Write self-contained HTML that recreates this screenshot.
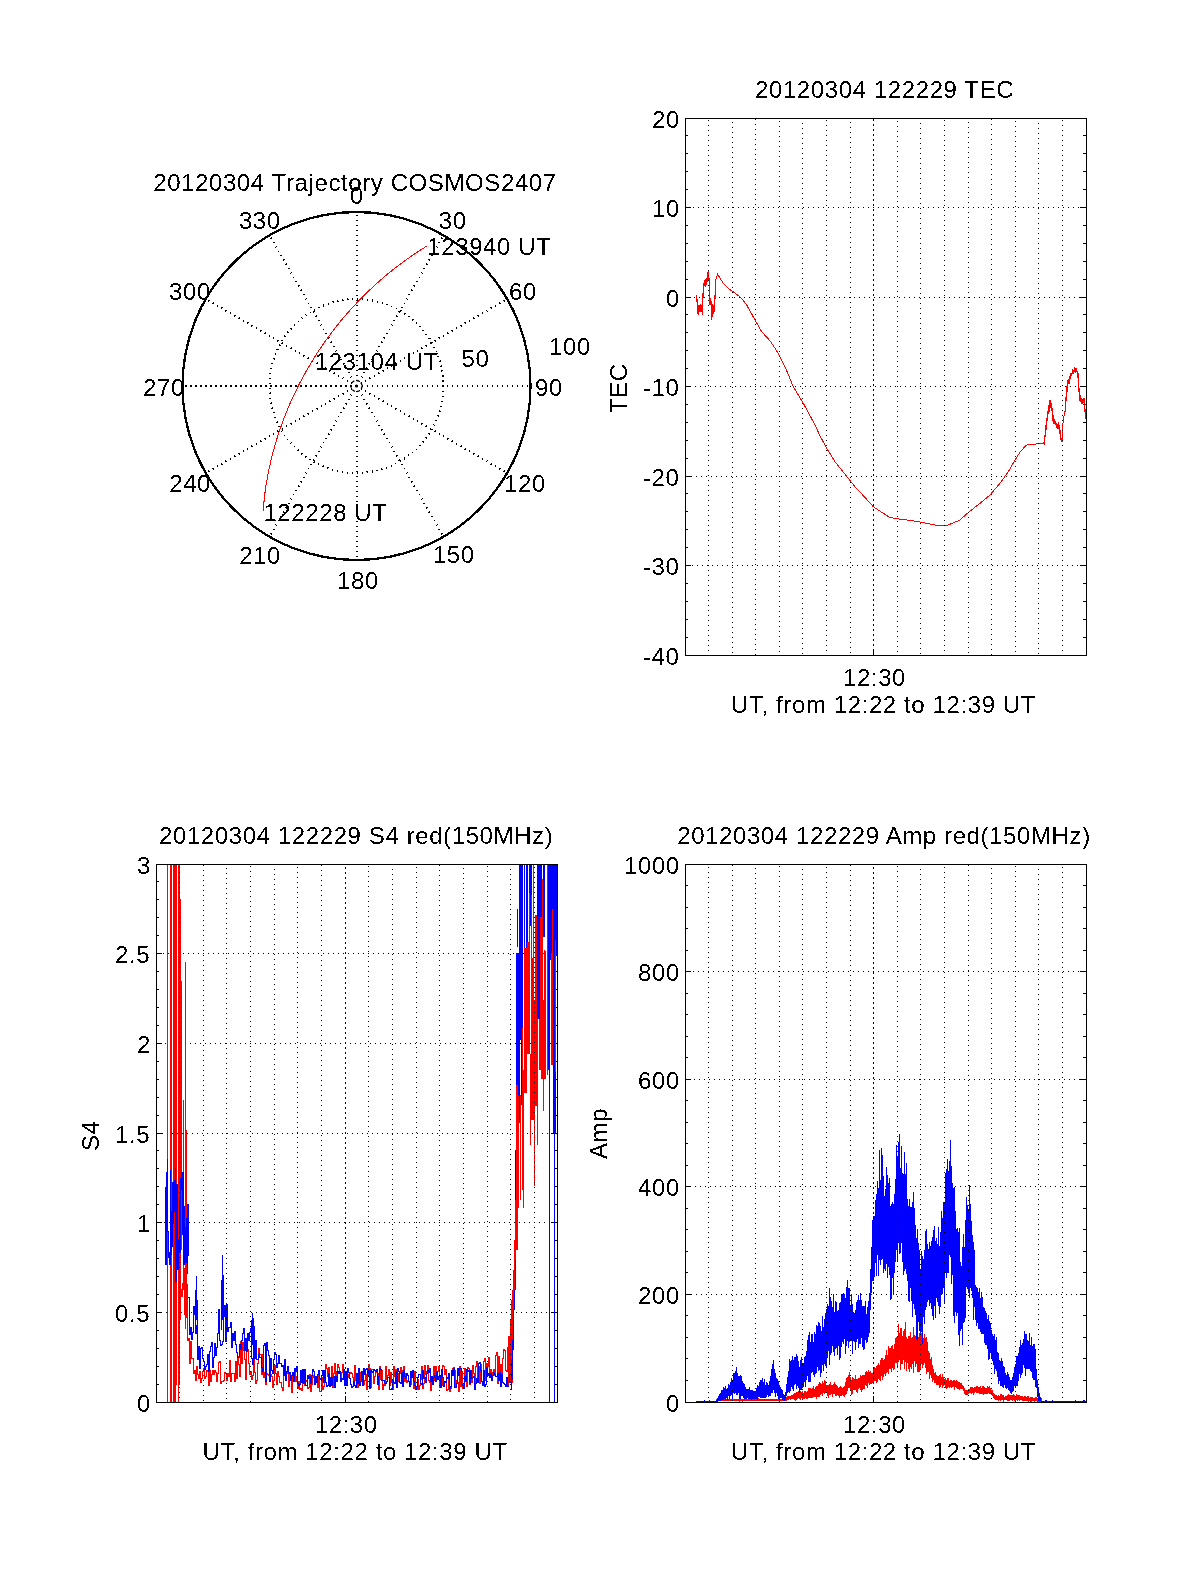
<!DOCTYPE html>
<html><head><meta charset="utf-8"><style>
html,body{margin:0;padding:0;background:#fff;}
svg{display:block;will-change:transform;}
text{font-family:"Liberation Sans",sans-serif;fill:#000;}
</style></head><body>
<svg width='1200' height='1575' viewBox='0 0 1200 1575' font-family='Liberation Sans' font-size='24' letter-spacing='0.6'>
<defs><filter id='bin' x='-5%' y='-20%' width='110%' height='140%'><feComponentTransfer><feFuncA type='discrete' tableValues='0 1'/></feComponentTransfer></filter></defs>
<rect width='1200' height='1575' fill='#fff'/>
<g shape-rendering='crispEdges'><path d='M685.5 118.5H1086.5V655.5H685.5Z' fill='none' stroke='#000'/><path d='M688 207.5H1086M689 297.5H1086M690 386.5H1086M686 476.5H1086M687 565.5H1086' stroke='#000' stroke-dasharray='1 4'/><path d='M685 637.5h3M1083 637.5h4M685 619.5h3M1083 619.5h4M685 601.5h3M1083 601.5h4M685 583.5h3M1083 583.5h4M685 565.5h6M1080 565.5h7M685 547.5h3M1083 547.5h4M685 529.5h3M1083 529.5h4M685 511.5h3M1083 511.5h4M685 493.5h3M1083 493.5h4M685 476.5h6M1080 476.5h7M685 458.5h3M1083 458.5h4M685 440.5h3M1083 440.5h4M685 422.5h3M1083 422.5h4M685 404.5h3M1083 404.5h4M685 386.5h6M1080 386.5h7M685 368.5h3M1083 368.5h4M685 350.5h3M1083 350.5h4M685 332.5h3M1083 332.5h4M685 314.5h3M1083 314.5h4M685 297.5h6M1080 297.5h7M685 279.5h3M1083 279.5h4M685 261.5h3M1083 261.5h4M685 243.5h3M1083 243.5h4M685 225.5h3M1083 225.5h4M685 207.5h6M1080 207.5h7M685 189.5h3M1083 189.5h4M685 171.5h3M1083 171.5h4M685 153.5h3M1083 153.5h4M685 135.5h3M1083 135.5h4' stroke='#000'/></g>
<text x='643' y='665' filter='url(#bin)'>-40</text>
<text x='643' y='575' filter='url(#bin)'>-30</text>
<text x='643' y='486' filter='url(#bin)'>-20</text>
<text x='643' y='396' filter='url(#bin)'>-10</text>
<text x='666' y='307' filter='url(#bin)'>0</text>
<text x='652' y='217' filter='url(#bin)'>10</text>
<text x='652' y='128' filter='url(#bin)'>20</text>
<text x='755' y='98' filter='url(#bin)'>20120304 122229 TEC</text>
<text x='843' y='686' filter='url(#bin)'>12:30</text>
<text x='731' y='713' filter='url(#bin)'>UT, from 12:22 to 12:39 UT</text>
<text x='627' y='413' transform='rotate(-90 627 413)' filter='url(#bin)'>TEC</text>
<g shape-rendering='crispEdges'><path d='M156.5 864.5H557.5V1402.5H156.5Z' fill='none' stroke='#000'/><path d='M158 953.5H557M160 1043.5H557M157 1133.5H557M159 1222.5H557M161 1312.5H557' stroke='#000' stroke-dasharray='1 4'/><path d='M156 1384.5h3M554 1384.5h4M156 1366.5h3M554 1366.5h4M156 1348.5h3M554 1348.5h4M156 1330.5h3M554 1330.5h4M156 1312.5h6M551 1312.5h7M156 1294.5h3M554 1294.5h4M156 1276.5h3M554 1276.5h4M156 1258.5h3M554 1258.5h4M156 1240.5h3M554 1240.5h4M156 1222.5h6M551 1222.5h7M156 1204.5h3M554 1204.5h4M156 1186.5h3M554 1186.5h4M156 1168.5h3M554 1168.5h4M156 1150.5h3M554 1150.5h4M156 1133.5h6M551 1133.5h7M156 1115.5h3M554 1115.5h4M156 1097.5h3M554 1097.5h4M156 1079.5h3M554 1079.5h4M156 1061.5h3M554 1061.5h4M156 1043.5h6M551 1043.5h7M156 1025.5h3M554 1025.5h4M156 1007.5h3M554 1007.5h4M156 989.5h3M554 989.5h4M156 971.5h3M554 971.5h4M156 953.5h6M551 953.5h7M156 935.5h3M554 935.5h4M156 917.5h3M554 917.5h4M156 899.5h3M554 899.5h4M156 881.5h3M554 881.5h4' stroke='#000'/></g>
<text x='137' y='1412' filter='url(#bin)'>0</text>
<text x='115' y='1322' filter='url(#bin)'>0.5</text>
<text x='137' y='1232' filter='url(#bin)'>1</text>
<text x='115' y='1143' filter='url(#bin)'>1.5</text>
<text x='137' y='1053' filter='url(#bin)'>2</text>
<text x='115' y='963' filter='url(#bin)'>2.5</text>
<text x='137' y='874' filter='url(#bin)'>3</text>
<text x='159' y='844' filter='url(#bin)'>20120304 122229 S4 red(150MHz)</text>
<text x='314.7' y='1433' filter='url(#bin)'>12:30</text>
<text x='202.6' y='1460' filter='url(#bin)'>UT, from 12:22 to 12:39 UT</text>
<text x='99' y='1151' transform='rotate(-90 99 1151)' filter='url(#bin)'>S4</text>
<g shape-rendering='crispEdges'><path d='M685.5 864.5H1086.5V1402.5H685.5Z' fill='none' stroke='#000'/><path d='M688 971.5H1086M689 1079.5H1086M690 1186.5H1086M686 1294.5H1086' stroke='#000' stroke-dasharray='1 4'/><path d='M685 1380.5h3M1083 1380.5h4M685 1358.5h3M1083 1358.5h4M685 1337.5h3M1083 1337.5h4M685 1315.5h3M1083 1315.5h4M685 1294.5h6M1080 1294.5h7M685 1272.5h3M1083 1272.5h4M685 1251.5h3M1083 1251.5h4M685 1229.5h3M1083 1229.5h4M685 1208.5h3M1083 1208.5h4M685 1186.5h6M1080 1186.5h7M685 1165.5h3M1083 1165.5h4M685 1143.5h3M1083 1143.5h4M685 1122.5h3M1083 1122.5h4M685 1100.5h3M1083 1100.5h4M685 1079.5h6M1080 1079.5h7M685 1057.5h3M1083 1057.5h4M685 1036.5h3M1083 1036.5h4M685 1014.5h3M1083 1014.5h4M685 993.5h3M1083 993.5h4M685 971.5h6M1080 971.5h7M685 950.5h3M1083 950.5h4M685 928.5h3M1083 928.5h4M685 907.5h3M1083 907.5h4M685 885.5h3M1083 885.5h4' stroke='#000'/></g>
<text x='666' y='1412' filter='url(#bin)'>0</text>
<text x='638' y='1304' filter='url(#bin)'>200</text>
<text x='638' y='1196' filter='url(#bin)'>400</text>
<text x='638' y='1089' filter='url(#bin)'>600</text>
<text x='638' y='981' filter='url(#bin)'>800</text>
<text x='624' y='874' filter='url(#bin)'>1000</text>
<text x='677.2' y='844' filter='url(#bin)'>20120304 122229 Amp red(150MHz)</text>
<text x='843' y='1433' filter='url(#bin)'>12:30</text>
<text x='731' y='1460' filter='url(#bin)'>UT, from 12:22 to 12:39 UT</text>
<text x='607' y='1159' transform='rotate(-90 607 1159)' filter='url(#bin)'>Amp</text>
<defs><clipPath id='cs4'><rect x='157' y='865' width='400' height='537'/></clipPath><clipPath id='camp'><rect x='686' y='865' width='400' height='537'/></clipPath></defs>
<g clip-path='url(#cs4)' shape-rendering='crispEdges'>
<path d='M167.5 864V1402M170 864V1402M173.5 864V1402M174.5 864V1402M175.5 864V1402M176.5 864V1385M178.5 864V1402M179.5 864V1385M180.5 899V1320M181.5 981V1250M185.5 962V1329M183.5 1100V1290M186.5 1130V1318' fill='none' stroke='#f00' stroke-width='1'/>
<path d='M171 864V1402' fill='none' stroke='#f00' stroke-width='2'/>
<path d='M180.5 1289V1290M181.5 1289V1297M182.5 1283V1297M183.5 1268V1284M184.5 1268V1315M185.5 1277V1315M186.5 1277V1285M187.5 1284V1341M188.5 1338V1341M189.5 1338V1364M190.5 1341V1364M191.5 1341V1359M192.5 1358V1359M193.5 1358V1374M194.5 1370V1374M195.5 1370V1381M196.5 1366V1381M197.5 1366V1375M198.5 1374V1379M199.5 1371V1379M200.5 1371V1383M201.5 1378V1383M202.5 1371V1379M203.5 1368V1372M204.5 1368V1379M205.5 1376V1379M206.5 1370V1377M207.5 1370V1372M208.5 1371V1386M209.5 1370V1386M210.5 1370V1382M211.5 1374V1382M212.5 1370V1375M213.5 1370V1375M214.5 1370V1375M215.5 1370V1373M216.5 1372V1382M217.5 1373V1382M218.5 1362V1374M219.5 1361V1363M220.5 1361V1384M221.5 1381V1384M222.5 1381V1382M223.5 1380V1382M224.5 1372V1381M225.5 1372V1374M226.5 1373V1381M227.5 1373V1381M228.5 1373V1377M229.5 1360V1377M230.5 1360V1382M231.5 1373V1382M232.5 1373V1374M233.5 1373V1374M234.5 1373V1382M235.5 1361V1382M236.5 1361V1379M237.5 1356V1379M238.5 1356V1365M239.5 1364V1377M240.5 1341V1377M241.5 1341V1364M242.5 1342V1364M243.5 1342V1351M244.5 1350V1360M245.5 1359V1380M246.5 1349V1380M247.5 1349V1350M248.5 1349V1364M249.5 1363V1375M250.5 1371V1375M251.5 1371V1380M252.5 1375V1380M253.5 1353V1376M254.5 1353V1373M255.5 1372V1384M256.5 1380V1384M257.5 1363V1381M258.5 1348V1364M259.5 1348V1355M260.5 1354V1355M261.5 1354V1375M262.5 1354V1375M263.5 1354V1378M264.5 1372V1378M265.5 1372V1385M266.5 1373V1385M267.5 1373V1375M268.5 1374V1376M269.5 1375V1376M270.5 1374V1376M271.5 1374V1377M272.5 1376V1388M273.5 1380V1388M274.5 1365V1381M275.5 1365V1374M276.5 1373V1385M277.5 1371V1385M278.5 1371V1377M279.5 1376V1383M280.5 1382V1383M281.5 1382V1388M282.5 1387V1391M283.5 1372V1391M284.5 1371V1373M285.5 1371V1373M286.5 1371V1373M287.5 1371V1374M288.5 1373V1387M289.5 1372V1387M290.5 1372V1376M291.5 1375V1393M292.5 1376V1393M293.5 1376V1382M294.5 1372V1382M295.5 1372V1382M296.5 1376V1382M297.5 1376V1389M298.5 1381V1389M299.5 1381V1390M300.5 1388V1390M301.5 1388V1391M302.5 1381V1391M303.5 1381V1383M304.5 1382V1386M305.5 1380V1386M306.5 1380V1382M307.5 1381V1389M308.5 1387V1389M309.5 1374V1388M310.5 1374V1392M311.5 1384V1392M312.5 1375V1385M313.5 1375V1378M314.5 1377V1384M315.5 1382V1384M316.5 1379V1383M317.5 1379V1388M318.5 1375V1388M319.5 1375V1392M320.5 1391V1392M321.5 1377V1392M322.5 1377V1390M323.5 1386V1390M324.5 1374V1387M325.5 1364V1375M326.5 1364V1369M327.5 1368V1377M328.5 1367V1377M329.5 1367V1380M330.5 1377V1380M331.5 1366V1378M332.5 1366V1388M333.5 1373V1388M334.5 1363V1374M335.5 1363V1380M336.5 1371V1380M337.5 1364V1372M338.5 1364V1368M339.5 1367V1373M340.5 1372V1378M341.5 1372V1378M342.5 1364V1373M343.5 1364V1371M344.5 1370V1381M345.5 1380V1382M346.5 1381V1383M347.5 1377V1383M348.5 1374V1378M349.5 1373V1375M350.5 1372V1374M351.5 1372V1374M352.5 1373V1378M353.5 1377V1384M354.5 1365V1384M355.5 1365V1381M356.5 1380V1385M357.5 1384V1388M358.5 1383V1388M359.5 1383V1384M360.5 1372V1384M361.5 1372V1378M362.5 1374V1378M363.5 1374V1385M364.5 1380V1385M365.5 1374V1381M366.5 1374V1390M367.5 1374V1390M368.5 1364V1375M369.5 1364V1369M370.5 1368V1388M371.5 1369V1388M372.5 1369V1370M373.5 1369V1384M374.5 1376V1384M375.5 1372V1377M376.5 1369V1373M377.5 1369V1374M378.5 1373V1390M379.5 1366V1390M380.5 1366V1380M381.5 1370V1380M382.5 1370V1390M383.5 1384V1390M384.5 1384V1386M385.5 1366V1386M386.5 1366V1380M387.5 1375V1380M388.5 1369V1376M389.5 1369V1386M390.5 1372V1386M391.5 1372V1383M392.5 1382V1390M393.5 1366V1390M394.5 1366V1377M395.5 1369V1377M396.5 1369V1379M397.5 1378V1382M398.5 1373V1382M399.5 1373V1374M400.5 1367V1374M401.5 1367V1376M402.5 1370V1376M403.5 1366V1371M404.5 1366V1382M405.5 1373V1382M406.5 1373V1383M407.5 1380V1383M408.5 1380V1382M409.5 1381V1385M410.5 1384V1385M411.5 1377V1385M412.5 1377V1378M413.5 1377V1389M414.5 1371V1389M415.5 1371V1389M416.5 1388V1390M417.5 1379V1390M418.5 1379V1390M419.5 1385V1390M420.5 1379V1386M421.5 1366V1380M422.5 1366V1389M423.5 1383V1389M424.5 1365V1384M425.5 1365V1375M426.5 1371V1375M427.5 1365V1372M428.5 1365V1381M429.5 1380V1383M430.5 1382V1391M431.5 1376V1391M432.5 1376V1379M433.5 1366V1379M434.5 1366V1381M435.5 1366V1381M436.5 1366V1376M437.5 1371V1376M438.5 1366V1372M439.5 1366V1388M440.5 1384V1388M441.5 1384V1386M442.5 1365V1386M443.5 1365V1367M444.5 1366V1375M445.5 1369V1375M446.5 1369V1391M447.5 1389V1391M448.5 1374V1390M449.5 1374V1392M450.5 1388V1392M451.5 1373V1389M452.5 1368V1374M453.5 1367V1369M454.5 1367V1371M455.5 1370V1387M456.5 1380V1387M457.5 1380V1383M458.5 1382V1392M459.5 1366V1392M460.5 1366V1387M461.5 1371V1387M462.5 1371V1389M463.5 1384V1389M464.5 1368V1385M465.5 1368V1382M466.5 1381V1387M467.5 1367V1387M468.5 1367V1369M469.5 1368V1385M470.5 1378V1385M471.5 1378V1383M472.5 1365V1383M473.5 1365V1374M474.5 1373V1388M475.5 1366V1388M476.5 1361V1367M477.5 1361V1378M478.5 1366V1378M479.5 1366V1384M480.5 1364V1384M481.5 1364V1382M482.5 1381V1382M483.5 1361V1382M484.5 1358V1362M485.5 1358V1381M486.5 1363V1381M487.5 1363V1367M488.5 1357V1367M489.5 1357V1378M490.5 1369V1378M491.5 1369V1381M492.5 1372V1381M493.5 1369V1373M494.5 1369V1376M495.5 1355V1376M496.5 1352V1356M497.5 1352V1384M498.5 1356V1384M499.5 1356V1377M500.5 1364V1377M501.5 1364V1378M502.5 1358V1378M503.5 1349V1359M504.5 1349V1351M505.5 1350V1371M506.5 1370V1372M507.5 1347V1372M508.5 1336V1348M509.5 1336V1376M510.5 1375V1381M511.5 1380V1383M512.5 1334V1383' fill='none' stroke='#f00' stroke-width='1'/>
<path d='M188.5 1297V1298M189.5 1297V1335M190.5 1327V1335M191.5 1327V1340M192.5 1332V1340M193.5 1306V1333M194.5 1306V1315M195.5 1314V1334M196.5 1325V1334M197.5 1325V1360M198.5 1346V1360M199.5 1346V1369M200.5 1348V1369M201.5 1347V1349M202.5 1347V1359M203.5 1358V1362M204.5 1361V1370M205.5 1366V1370M206.5 1364V1367M207.5 1354V1365M208.5 1354V1372M209.5 1351V1372M210.5 1346V1352M211.5 1342V1347M212.5 1342V1368M213.5 1357V1368M214.5 1343V1358M215.5 1343V1356M216.5 1347V1356M217.5 1333V1348M218.5 1309V1334M219.5 1309V1341M220.5 1340V1346M221.5 1344V1346M222.5 1341V1345M223.5 1316V1342M224.5 1305V1317M225.5 1305V1342M226.5 1304V1342M227.5 1304V1332M228.5 1327V1332M229.5 1327V1328M230.5 1322V1328M231.5 1322V1348M232.5 1333V1348M233.5 1333V1341M234.5 1331V1341M235.5 1331V1345M236.5 1344V1353M237.5 1352V1358M238.5 1357V1358M239.5 1344V1358M240.5 1344V1350M241.5 1340V1350M242.5 1333V1341M243.5 1328V1334M244.5 1328V1351M245.5 1338V1351M246.5 1338V1352M247.5 1333V1352M248.5 1333V1341M249.5 1332V1341M250.5 1328V1333M251.5 1328V1359M252.5 1358V1365M253.5 1326V1365M254.5 1326V1359M255.5 1340V1359M256.5 1340V1360M257.5 1359V1360M258.5 1353V1360M259.5 1353V1358M260.5 1357V1358M261.5 1357V1368M262.5 1367V1372M263.5 1345V1372M264.5 1343V1346M265.5 1343V1382M266.5 1342V1382M267.5 1342V1351M268.5 1350V1356M269.5 1355V1382M270.5 1358V1382M271.5 1358V1371M272.5 1370V1374M273.5 1359V1374M274.5 1352V1360M275.5 1352V1355M276.5 1354V1368M277.5 1363V1368M278.5 1355V1364M279.5 1355V1364M280.5 1363V1364M281.5 1363V1367M282.5 1365V1367M283.5 1365V1376M284.5 1359V1376M285.5 1359V1381M286.5 1371V1381M287.5 1366V1372M288.5 1366V1374M289.5 1372V1374M290.5 1372V1381M291.5 1375V1381M292.5 1372V1376M293.5 1372V1382M294.5 1368V1382M295.5 1368V1372M296.5 1366V1372M297.5 1366V1384M298.5 1383V1386M299.5 1384V1386M300.5 1370V1385M301.5 1370V1383M302.5 1369V1383M303.5 1369V1384M304.5 1369V1384M305.5 1369V1386M306.5 1385V1386M307.5 1375V1386M308.5 1375V1379M309.5 1376V1379M310.5 1376V1384M311.5 1375V1384M312.5 1369V1376M313.5 1369V1372M314.5 1371V1385M315.5 1376V1385M316.5 1376V1383M317.5 1374V1383M318.5 1370V1375M319.5 1370V1379M320.5 1378V1380M321.5 1375V1380M322.5 1370V1376M323.5 1370V1383M324.5 1370V1383M325.5 1370V1383M326.5 1382V1387M327.5 1385V1387M328.5 1373V1386M329.5 1373V1387M330.5 1377V1387M331.5 1377V1386M332.5 1377V1386M333.5 1376V1378M334.5 1376V1388M335.5 1376V1388M336.5 1376V1382M337.5 1371V1382M338.5 1371V1374M339.5 1371V1374M340.5 1371V1382M341.5 1378V1382M342.5 1378V1380M343.5 1369V1380M344.5 1369V1386M345.5 1371V1386M346.5 1371V1386M347.5 1368V1386M348.5 1368V1373M349.5 1372V1379M350.5 1378V1385M351.5 1384V1388M352.5 1386V1388M353.5 1381V1387M354.5 1381V1386M355.5 1385V1388M356.5 1373V1388M357.5 1373V1384M358.5 1368V1384M359.5 1368V1386M360.5 1381V1386M361.5 1371V1382M362.5 1371V1386M363.5 1368V1386M364.5 1368V1375M365.5 1369V1375M366.5 1368V1370M367.5 1368V1376M368.5 1369V1376M369.5 1369V1389M370.5 1370V1389M371.5 1370V1372M372.5 1371V1373M373.5 1369V1373M374.5 1369V1371M375.5 1370V1372M376.5 1369V1372M377.5 1369V1385M378.5 1376V1385M379.5 1368V1377M380.5 1368V1370M381.5 1369V1381M382.5 1380V1381M383.5 1380V1381M384.5 1380V1384M385.5 1383V1384M386.5 1381V1384M387.5 1377V1382M388.5 1377V1378M389.5 1377V1390M390.5 1389V1390M391.5 1388V1390M392.5 1380V1389M393.5 1380V1383M394.5 1382V1384M395.5 1371V1384M396.5 1371V1388M397.5 1368V1388M398.5 1368V1372M399.5 1371V1383M400.5 1382V1384M401.5 1372V1384M402.5 1372V1387M403.5 1370V1387M404.5 1370V1377M405.5 1376V1379M406.5 1373V1379M407.5 1373V1376M408.5 1375V1382M409.5 1381V1387M410.5 1371V1387M411.5 1371V1378M412.5 1370V1378M413.5 1370V1382M414.5 1381V1386M415.5 1385V1390M416.5 1386V1390M417.5 1377V1387M418.5 1374V1378M419.5 1374V1375M420.5 1374V1384M421.5 1383V1385M422.5 1370V1385M423.5 1370V1379M424.5 1377V1379M425.5 1377V1383M426.5 1373V1383M427.5 1370V1374M428.5 1370V1373M429.5 1368V1373M430.5 1368V1382M431.5 1376V1382M432.5 1376V1385M433.5 1377V1385M434.5 1375V1378M435.5 1375V1382M436.5 1371V1382M437.5 1371V1380M438.5 1376V1380M439.5 1375V1377M440.5 1375V1388M441.5 1369V1388M442.5 1369V1378M443.5 1377V1387M444.5 1381V1387M445.5 1381V1383M446.5 1377V1383M447.5 1377V1379M448.5 1373V1379M449.5 1373V1389M450.5 1386V1389M451.5 1370V1387M452.5 1370V1376M453.5 1368V1376M454.5 1368V1388M455.5 1387V1388M456.5 1383V1388M457.5 1368V1384M458.5 1368V1376M459.5 1368V1376M460.5 1368V1369M461.5 1368V1385M462.5 1384V1386M463.5 1385V1389M464.5 1376V1389M465.5 1376V1382M466.5 1369V1382M467.5 1369V1372M468.5 1370V1372M469.5 1370V1384M470.5 1370V1384M471.5 1370V1379M472.5 1377V1379M473.5 1376V1378M474.5 1376V1390M475.5 1383V1390M476.5 1378V1384M477.5 1378V1383M478.5 1363V1383M479.5 1362V1364M480.5 1362V1371M481.5 1370V1382M482.5 1381V1386M483.5 1370V1386M484.5 1370V1387M485.5 1384V1387M486.5 1367V1385M487.5 1367V1376M488.5 1373V1376M489.5 1373V1378M490.5 1373V1378M491.5 1373V1381M492.5 1375V1381M493.5 1372V1376M494.5 1372V1375M495.5 1374V1377M496.5 1376V1377M497.5 1373V1377M498.5 1373V1381M499.5 1372V1381M500.5 1372V1387M501.5 1374V1387M502.5 1374V1383M503.5 1382V1384M504.5 1383V1385M505.5 1384V1387M506.5 1377V1387M507.5 1377V1387M508.5 1374V1387M509.5 1374V1383M510.5 1381V1383M511.5 1379V1382' fill='none' stroke='#00f' stroke-width='1'/>
<path d='M165.5 1187V1265M166.5 1172V1265M167.5 1159V1232M168.5 1231V1258M169.5 1252V1265M170.5 1170V1265M171.5 1211V1255M172.5 1182V1247M173.5 1182V1224M174.5 1180V1212M175.5 1168V1282M176.5 1184V1282M177.5 1184V1270M178.5 1239V1270M179.5 1199V1253M180.5 1178V1253M181.5 1172V1190M182.5 1172V1235M183.5 1172V1265M184.5 1206V1265M185.5 1227V1263M186.5 1218V1263M187.5 1204V1274M188.5 1204V1256' fill='none' stroke='#00f' stroke-width='1'/>
<path d='M511.5 1360V1390M512.5 1330V1380M513.5 1300V1350M514.5 1250V1310M515.5 1150V1290M516.5 953V1210M517.5 909V947M517.5 953V1123M518.5 953V1123M519.5 864V1123M520.5 864V1040M521.5 864V1040M521.5 1040V1105M522.5 864V1040M524.5 864V984M526.5 864V1040M527.5 864V1040M529.5 864V926M530.5 864V926M531.5 864V926M537.5 864V1019M538.5 864V1019M539.5 864V1019M540.5 864V1019M541.5 864V917M543.5 864V937M544.5 864V937M548.5 864V1070M549.5 864V1402M550.5 864V960M551.5 864V1040M552.5 864V1040M553.5 864V1133M554.5 864V1402M555.5 864V1133M556.5 864V956M557.5 864V1402' fill='none' stroke='#00f'/>
<path d='M195.5 1290V1330M196.5 1276V1320M197.5 1300V1330M221.5 1280V1330M222.5 1255V1320M223.5 1275V1320M251.5 1320V1350M252.5 1313V1345M253.5 1318V1350' fill='none' stroke='#00f'/>
<path d='M525.5 948V1093M528.5 942V1054M535.5 915V1106M539.5 1019V1070M541.5 917V1079M544.5 950V1079M508.5 1340V1385M510.5 1320V1380M511.5 1300V1360M512.5 1290V1340M513.5 1270V1310M514.5 1240V1290M515.5 1200V1260M516.5 1085V1250M517.5 1085V1250M518.5 1095V1208M520.5 1095V1200M522.5 1028V1190M523.5 1070V1208M524.5 948V1093M526.5 948V1093M527.5 942V1054M529.5 893V1054M530.5 1054V1145M531.5 895V1120M532.5 958V1120M533.5 864V1120M534.5 1000V1186M536.5 915V1106M537.5 1019V1145M540.5 917V1070M542.5 879V1079M543.5 1000V1111M545.5 951V1079M547.5 864V1075M551.5 953V1065M552.5 909V1065M555.5 940V1072' fill='none' stroke='#f00'/>
</g>
<g clip-path='url(#camp)'>
<path d='M716.5 1399V1401M717.5 1399V1401M718.5 1399V1401M719.5 1398V1401M720.5 1399V1401M721.5 1399V1401M722.5 1399V1401M723.5 1398V1401M724.5 1399V1401M725.5 1399V1401M726.5 1399V1401M727.5 1399V1401M728.5 1399V1401M729.5 1399V1401M730.5 1399V1401M731.5 1399V1401M732.5 1399V1401M733.5 1399V1401M734.5 1399V1401M735.5 1399V1401M736.5 1399V1401M737.5 1399V1401M738.5 1399V1401M739.5 1399V1402M740.5 1399V1401M741.5 1399V1401M742.5 1399V1402M743.5 1399V1401M744.5 1399V1401M745.5 1399V1401M746.5 1399V1401M747.5 1399V1401M748.5 1399V1401M749.5 1399V1401M750.5 1399V1401M751.5 1399V1401M752.5 1399V1401M753.5 1399V1401M754.5 1399V1401M755.5 1399V1401M756.5 1399V1401M757.5 1399V1401M758.5 1398V1401M759.5 1399V1401M760.5 1399V1401M761.5 1399V1401M762.5 1399V1401M763.5 1399V1401M764.5 1399V1401M765.5 1399V1401M766.5 1399V1401M767.5 1399V1401M768.5 1399V1401M769.5 1399V1401M770.5 1399V1401M771.5 1399V1401M772.5 1399V1401M773.5 1399V1401M774.5 1399V1401M775.5 1399V1401M776.5 1399V1401M777.5 1399V1401M778.5 1399V1401M779.5 1399V1402M780.5 1399V1401M781.5 1399V1401M782.5 1399V1401M783.5 1398V1401M784.5 1398V1401M785.5 1398V1401M786.5 1397V1401M787.5 1396V1400M788.5 1396V1400M789.5 1396V1399M790.5 1396V1400M791.5 1395V1399M792.5 1395V1399M793.5 1394V1399M794.5 1393V1400M795.5 1393V1401M796.5 1392V1400M797.5 1392V1399M798.5 1391V1398M799.5 1391V1399M800.5 1391V1400M801.5 1392V1398M802.5 1391V1400M803.5 1393V1399M804.5 1391V1399M805.5 1391V1398M806.5 1392V1399M807.5 1391V1399M808.5 1388V1398M809.5 1388V1398M810.5 1388V1398M811.5 1389V1398M812.5 1388V1398M813.5 1386V1397M814.5 1389V1397M815.5 1387V1397M816.5 1386V1399M817.5 1386V1397M818.5 1384V1397M819.5 1382V1397M820.5 1383V1395M821.5 1384V1394M822.5 1381V1396M823.5 1383V1393M824.5 1380V1394M825.5 1381V1393M826.5 1385V1393M827.5 1385V1396M828.5 1385V1398M829.5 1384V1395M830.5 1382V1395M831.5 1385V1394M832.5 1385V1397M833.5 1384V1394M834.5 1382V1394M835.5 1384V1396M836.5 1385V1396M837.5 1386V1395M838.5 1388V1396M839.5 1387V1398M840.5 1386V1396M841.5 1387V1396M842.5 1388V1395M843.5 1387V1396M844.5 1386V1397M845.5 1382V1395M846.5 1378V1394M847.5 1377V1391M848.5 1375V1388M849.5 1372V1388M850.5 1377V1390M851.5 1380V1395M852.5 1377V1394M853.5 1378V1390M854.5 1379V1390M855.5 1375V1390M856.5 1379V1392M857.5 1379V1393M858.5 1378V1389M859.5 1378V1388M860.5 1375V1390M861.5 1376V1392M862.5 1375V1390M863.5 1375V1389M864.5 1375V1389M865.5 1372V1385M866.5 1371V1386M867.5 1372V1388M868.5 1370V1383M869.5 1372V1385M870.5 1371V1384M871.5 1373V1384M872.5 1373V1383M873.5 1369V1382M874.5 1367V1381M875.5 1368V1381M876.5 1366V1383M877.5 1365V1382M878.5 1363V1379M879.5 1365V1380M880.5 1360V1381M881.5 1358V1376M882.5 1358V1380M883.5 1360V1377M884.5 1359V1374M885.5 1355V1376M886.5 1350V1373M887.5 1355V1372M888.5 1346V1374M889.5 1348V1369M890.5 1348V1369M891.5 1346V1372M892.5 1345V1368M893.5 1349V1370M894.5 1344V1369M895.5 1338V1363M896.5 1337V1363M897.5 1336V1368M898.5 1324V1362M899.5 1333V1360M900.5 1328V1370M901.5 1328V1364M902.5 1336V1364M903.5 1331V1360M904.5 1329V1369M905.5 1322V1362M906.5 1337V1371M907.5 1339V1363M908.5 1336V1369M909.5 1336V1372M910.5 1332V1367M911.5 1338V1369M912.5 1337V1364M913.5 1327V1373M914.5 1335V1361M915.5 1336V1367M916.5 1330V1364M917.5 1338V1372M918.5 1337V1372M919.5 1333V1372M920.5 1329V1370M921.5 1333V1364M922.5 1330V1368M923.5 1338V1365M924.5 1334V1363M925.5 1338V1368M926.5 1337V1374M927.5 1342V1372M928.5 1351V1372M929.5 1353V1379M930.5 1359V1375M931.5 1357V1378M932.5 1365V1382M933.5 1369V1380M934.5 1373V1383M935.5 1372V1383M936.5 1375V1385M937.5 1376V1385M938.5 1376V1385M939.5 1375V1388M940.5 1374V1387M941.5 1377V1385M942.5 1374V1388M943.5 1377V1386M944.5 1379V1385M945.5 1378V1388M946.5 1380V1389M947.5 1378V1388M948.5 1378V1387M949.5 1381V1388M950.5 1380V1387M951.5 1380V1388M952.5 1381V1387M953.5 1380V1387M954.5 1380V1390M955.5 1381V1387M956.5 1380V1388M957.5 1381V1389M958.5 1382V1389M959.5 1382V1390M960.5 1383V1389M961.5 1383V1389M962.5 1385V1389M963.5 1386V1391M964.5 1388V1394M965.5 1390V1395M966.5 1390V1395M967.5 1390V1395M968.5 1389V1394M969.5 1389V1393M970.5 1387V1393M971.5 1387V1394M972.5 1387V1393M973.5 1388V1395M974.5 1387V1393M975.5 1387V1392M976.5 1386V1393M977.5 1386V1393M978.5 1387V1393M979.5 1387V1394M980.5 1386V1394M981.5 1388V1394M982.5 1386V1394M983.5 1386V1395M984.5 1387V1394M985.5 1388V1394M986.5 1388V1394M987.5 1386V1394M988.5 1387V1393M989.5 1386V1394M990.5 1388V1394M991.5 1390V1395M992.5 1390V1396M993.5 1393V1398M994.5 1394V1399M995.5 1395V1400M996.5 1395V1400M997.5 1396V1400M998.5 1395V1401M999.5 1396V1400M1000.5 1394V1401M1001.5 1394V1400M1002.5 1395V1400M1003.5 1395V1402M1004.5 1397V1400M1005.5 1396V1400M1006.5 1396V1400M1007.5 1395V1401M1008.5 1394V1401M1009.5 1395V1401M1010.5 1395V1400M1011.5 1395V1400M1012.5 1395V1401M1013.5 1394V1400M1014.5 1395V1401M1015.5 1396V1401M1016.5 1394V1400M1017.5 1395V1401M1018.5 1395V1400M1019.5 1395V1401M1020.5 1396V1400M1021.5 1396V1400M1022.5 1396V1401M1023.5 1397V1401M1024.5 1396V1401M1025.5 1396V1401M1026.5 1397V1401M1027.5 1396V1401M1028.5 1396V1402M1029.5 1398V1401M1030.5 1397V1402M1031.5 1397V1402M1032.5 1397V1401M1033.5 1398V1401M1034.5 1398V1402M1035.5 1397V1401M1036.5 1397V1401M1037.5 1398V1402M1038.5 1398V1402M1039.5 1399V1402M1040.5 1399V1402M1041.5 1398V1402' fill='none' stroke='#f00' stroke-width='1' shape-rendering='crispEdges'/>
<path d='M696.5 1401V1402M697.5 1401V1402M698.5 1401V1402M699.5 1401V1402M700.5 1401V1402M701.5 1401V1402M702.5 1401V1402M703.5 1401V1402M704.5 1400V1402M705.5 1401V1402M706.5 1401V1402M707.5 1401V1402M708.5 1401V1402M709.5 1400V1402M710.5 1401V1402M711.5 1401V1402M712.5 1401V1402M713.5 1401V1402M714.5 1401V1402M715.5 1401V1402M716.5 1400V1402M717.5 1398V1402M718.5 1396V1401M719.5 1394V1401M720.5 1393V1401M721.5 1390V1400M722.5 1390V1400M723.5 1387V1400M724.5 1388V1399M725.5 1386V1400M726.5 1389V1398M727.5 1388V1400M728.5 1384V1396M729.5 1385V1399M730.5 1382V1396M731.5 1378V1395M732.5 1380V1399M733.5 1373V1393M734.5 1373V1394M735.5 1371V1393M736.5 1367V1395M737.5 1373V1395M738.5 1376V1393M739.5 1376V1399M740.5 1375V1399M741.5 1376V1396M742.5 1381V1396M743.5 1383V1398M744.5 1384V1399M745.5 1387V1399M746.5 1389V1399M747.5 1389V1398M748.5 1389V1399M749.5 1387V1399M750.5 1390V1399M751.5 1390V1400M752.5 1390V1399M753.5 1391V1399M754.5 1391V1399M755.5 1391V1399M756.5 1388V1399M757.5 1385V1400M758.5 1386V1397M759.5 1382V1397M760.5 1380V1398M761.5 1380V1398M762.5 1378V1398M763.5 1382V1398M764.5 1379V1398M765.5 1385V1398M766.5 1382V1397M767.5 1383V1395M768.5 1385V1397M769.5 1381V1396M770.5 1376V1396M771.5 1369V1393M772.5 1364V1393M773.5 1360V1390M774.5 1369V1393M775.5 1373V1397M776.5 1378V1393M777.5 1379V1396M778.5 1381V1399M779.5 1385V1400M780.5 1387V1398M781.5 1389V1398M782.5 1390V1400M783.5 1394V1401M784.5 1395V1401M785.5 1392V1400M786.5 1384V1396M787.5 1377V1393M788.5 1371V1392M789.5 1359V1393M790.5 1361V1391M791.5 1360V1387M792.5 1356V1389M793.5 1360V1391M794.5 1357V1385M795.5 1357V1384M796.5 1354V1389M797.5 1356V1386M798.5 1361V1388M799.5 1367V1393M800.5 1360V1390M801.5 1357V1390M802.5 1363V1388M803.5 1363V1387M804.5 1357V1382M805.5 1356V1387M806.5 1351V1380M807.5 1340V1376M808.5 1335V1382M809.5 1332V1382M810.5 1342V1382M811.5 1334V1373M812.5 1334V1372M813.5 1342V1375M814.5 1332V1377M815.5 1334V1374M816.5 1325V1373M817.5 1326V1367M818.5 1322V1371M819.5 1323V1370M820.5 1326V1377M821.5 1331V1373M822.5 1316V1365M823.5 1327V1371M824.5 1319V1364M825.5 1313V1366M826.5 1309V1367M827.5 1304V1358M828.5 1306V1351M829.5 1288V1365M830.5 1297V1355M831.5 1301V1353M832.5 1307V1346M833.5 1294V1352M834.5 1312V1356M835.5 1301V1349M836.5 1302V1348M837.5 1311V1355M838.5 1310V1346M839.5 1303V1360M840.5 1302V1358M841.5 1295V1347M842.5 1294V1342M843.5 1293V1344M844.5 1294V1339M845.5 1298V1354M846.5 1287V1346M847.5 1280V1341M848.5 1288V1348M849.5 1288V1342M850.5 1305V1340M851.5 1294V1341M852.5 1304V1354M853.5 1312V1341M854.5 1313V1342M855.5 1310V1350M856.5 1302V1342M857.5 1300V1339M858.5 1295V1348M859.5 1300V1344M860.5 1293V1344M861.5 1300V1338M862.5 1306V1347M863.5 1306V1350M864.5 1306V1349M865.5 1301V1340M866.5 1314V1343M867.5 1307V1342M868.5 1301V1337M869.5 1293V1333M870.5 1269V1310M871.5 1247V1293M872.5 1220V1281M873.5 1216V1281M874.5 1216V1277M875.5 1200V1263M876.5 1194V1276M877.5 1181V1255M878.5 1188V1276M879.5 1150V1260M880.5 1180V1265M881.5 1148V1260M882.5 1155V1259M883.5 1176V1273M884.5 1196V1269M885.5 1189V1271M886.5 1167V1264M887.5 1175V1278M888.5 1183V1267M889.5 1178V1275M890.5 1206V1300M891.5 1204V1299M892.5 1202V1278M893.5 1204V1295M894.5 1194V1273M895.5 1179V1262M896.5 1145V1250M897.5 1156V1261M898.5 1142V1243M899.5 1134V1254M900.5 1168V1253M901.5 1146V1243M902.5 1173V1262M903.5 1174V1275M904.5 1152V1271M905.5 1174V1269M906.5 1163V1274M907.5 1199V1281M908.5 1206V1301M909.5 1199V1302M910.5 1207V1288M911.5 1207V1301M912.5 1202V1317M913.5 1192V1304M914.5 1208V1309M915.5 1225V1315M916.5 1238V1339M917.5 1229V1341M918.5 1243V1322M919.5 1250V1331M920.5 1269V1333M921.5 1251V1332M922.5 1256V1344M923.5 1259V1317M924.5 1250V1324M925.5 1231V1310M926.5 1229V1307M927.5 1244V1302M928.5 1249V1300M929.5 1242V1306M930.5 1246V1303M931.5 1241V1309M932.5 1237V1316M933.5 1230V1320M934.5 1226V1306M935.5 1241V1318M936.5 1238V1298M937.5 1244V1302M938.5 1227V1306M939.5 1246V1314M940.5 1232V1307M941.5 1211V1295M942.5 1218V1294M943.5 1202V1288M944.5 1202V1304M945.5 1173V1273M946.5 1169V1278M947.5 1159V1273M948.5 1171V1273M949.5 1161V1255M950.5 1140V1257M951.5 1166V1284M952.5 1183V1275M953.5 1188V1316M954.5 1187V1323M955.5 1211V1312M956.5 1229V1316M957.5 1228V1313M958.5 1232V1335M959.5 1228V1346M960.5 1262V1331M961.5 1266V1329M962.5 1247V1345M963.5 1234V1323M964.5 1247V1322M965.5 1220V1318M966.5 1197V1287M967.5 1205V1289M968.5 1209V1293M969.5 1185V1298M970.5 1204V1288M971.5 1221V1291M972.5 1235V1298M973.5 1242V1320M974.5 1250V1307M975.5 1285V1320M976.5 1287V1326M977.5 1288V1323M978.5 1292V1329M979.5 1288V1329M980.5 1298V1332M981.5 1292V1334M982.5 1297V1334M983.5 1307V1334M984.5 1308V1343M985.5 1311V1345M986.5 1313V1345M987.5 1319V1349M988.5 1315V1360M989.5 1321V1359M990.5 1323V1353M991.5 1330V1358M992.5 1334V1361M993.5 1336V1365M994.5 1334V1374M995.5 1340V1369M996.5 1337V1371M997.5 1352V1377M998.5 1353V1384M999.5 1360V1381M1000.5 1361V1386M1001.5 1358V1386M1002.5 1361V1387M1003.5 1366V1388M1004.5 1367V1385M1005.5 1373V1388M1006.5 1375V1389M1007.5 1372V1388M1008.5 1374V1390M1009.5 1377V1391M1010.5 1380V1393M1011.5 1380V1394M1012.5 1377V1392M1013.5 1373V1391M1014.5 1367V1386M1015.5 1364V1388M1016.5 1356V1386M1017.5 1356V1386M1018.5 1353V1381M1019.5 1347V1374M1020.5 1340V1378M1021.5 1345V1375M1022.5 1343V1373M1023.5 1339V1365M1024.5 1331V1368M1025.5 1334V1376M1026.5 1334V1369M1027.5 1340V1369M1028.5 1341V1369M1029.5 1333V1369M1030.5 1345V1371M1031.5 1337V1372M1032.5 1346V1378M1033.5 1344V1380M1034.5 1344V1380M1035.5 1349V1387M1036.5 1369V1388M1037.5 1380V1397M1038.5 1387V1401M1039.5 1393V1401M1040.5 1397V1401M1041.5 1401V1403M1042.5 1401V1402M1043.5 1401V1402M1044.5 1401V1402M1045.5 1400V1402M1046.5 1400V1402M1047.5 1401V1402M1048.5 1401V1402M1049.5 1401V1402M1050.5 1401V1402M1051.5 1401V1402M1052.5 1400V1402M1053.5 1401V1402M1054.5 1401V1402M1055.5 1401V1402M1056.5 1401V1402M1057.5 1401V1402M1058.5 1401V1402M1059.5 1401V1402M1060.5 1401V1402M1061.5 1401V1402M1062.5 1401V1402M1063.5 1401V1403M1064.5 1401V1402M1065.5 1401V1402M1066.5 1401V1402M1067.5 1401V1402M1068.5 1401V1402M1069.5 1401V1402M1070.5 1401V1402M1071.5 1401V1402M1072.5 1401V1402M1073.5 1401V1402M1074.5 1401V1402M1075.5 1400V1402M1076.5 1401V1402M1077.5 1401V1402M1078.5 1401V1402M1079.5 1401V1402M1080.5 1401V1402M1081.5 1401V1402M1082.5 1401V1402M1083.5 1400V1402M1084.5 1400V1402M1085.5 1401V1402M1086.5 1401V1402' fill='none' stroke='#00f' stroke-width='1' shape-rendering='crispEdges'/>
</g>
<circle cx='356.5' cy='386' r='174' fill='none' stroke='#000' stroke-width='2.3' shape-rendering='crispEdges'/>
<circle cx='356.5' cy='386' r='87.0' fill='none' stroke='#000' stroke-width='2' stroke-dasharray='1.2 3.8' shape-rendering='crispEdges'/>
<circle cx='356.5' cy='386' r='5.5' fill='none' stroke='#000' stroke-width='1.3' stroke-dasharray='3 2'/>
<circle cx='356.5' cy='386' r='1.5' fill='#000'/>
<path d='M356.5 386L356.5 212.0' stroke='#000' stroke-width='2' stroke-dasharray='1.2 3.8' shape-rendering='crispEdges'/>
<path d='M356.5 386L443.5 235.3' stroke='#000' stroke-width='2' stroke-dasharray='1.2 3.8' shape-rendering='crispEdges'/>
<path d='M356.5 386L507.2 299.0' stroke='#000' stroke-width='2' stroke-dasharray='1.2 3.8' shape-rendering='crispEdges'/>
<path d='M356.5 386L530.5 386.0' stroke='#000' stroke-width='2' stroke-dasharray='1.2 3.8' shape-rendering='crispEdges'/>
<path d='M356.5 386L507.2 473.0' stroke='#000' stroke-width='2' stroke-dasharray='1.2 3.8' shape-rendering='crispEdges'/>
<path d='M356.5 386L443.5 536.7' stroke='#000' stroke-width='2' stroke-dasharray='1.2 3.8' shape-rendering='crispEdges'/>
<path d='M356.5 386L356.5 560.0' stroke='#000' stroke-width='2' stroke-dasharray='1.2 3.8' shape-rendering='crispEdges'/>
<path d='M356.5 386L269.5 536.7' stroke='#000' stroke-width='2' stroke-dasharray='1.2 3.8' shape-rendering='crispEdges'/>
<path d='M356.5 386L205.8 473.0' stroke='#000' stroke-width='2' stroke-dasharray='1.2 3.8' shape-rendering='crispEdges'/>
<path d='M356.5 386L182.5 386.0' stroke='#000' stroke-width='2' stroke-dasharray='1.2 3.8' shape-rendering='crispEdges'/>
<path d='M356.5 386L205.8 299.0' stroke='#000' stroke-width='2' stroke-dasharray='1.2 3.8' shape-rendering='crispEdges'/>
<path d='M356.5 386L269.5 235.3' stroke='#000' stroke-width='2' stroke-dasharray='1.2 3.8' shape-rendering='crispEdges'/>
<path d='M263.2 511.4L263.6 505.9L264.1 500.5L264.7 495.0L265.4 489.6L266.2 484.2L267.2 478.8L268.2 473.4L269.3 468.0L270.5 462.7L271.7 457.3L273.1 452.0L274.6 446.7L276.1 441.5L277.7 436.2L279.4 431.0L281.2 425.9L283.1 420.7L285.1 415.6L287.1 410.5L289.2 405.4L291.4 400.4L293.7 395.4L296.1 390.5L298.5 385.6L301.0 380.7L303.6 375.9L306.3 371.1L309.0 366.4L311.8 361.7L314.7 357.0L317.6 352.4L320.7 347.8L323.8 343.3L326.9 338.9L330.2 334.5L333.5 330.1L336.9 325.8L340.3 321.5L343.8 317.3L347.4 313.2L351.0 309.1L354.8 305.0L358.5 301.1L362.4 297.1L366.3 293.3L370.2 289.5L374.2 285.7L378.3 282.1L382.4 278.5L386.6 274.9L390.9 271.4L395.2 268.0L399.5 264.7L403.9 261.4L408.4 258.2L412.9 255.1L417.4 252.0L422.0 249.1L426.6 246.2' fill='none' stroke='#f00' shape-rendering='crispEdges'/>
<text x='350' y='204' filter='url(#bin)'>0</text>
<text x='438.8' y='229.3' filter='url(#bin)'>30</text>
<text x='238.9' y='229' filter='url(#bin)'>330</text>
<text x='169' y='300' filter='url(#bin)'>300</text>
<text x='509' y='300' filter='url(#bin)'>60</text>
<text x='143' y='396' filter='url(#bin)'>270</text>
<text x='535' y='396' filter='url(#bin)'>90</text>
<text x='549' y='355' filter='url(#bin)'>100</text>
<text x='461.5' y='367.3' filter='url(#bin)'>50</text>
<text x='169.2' y='492' filter='url(#bin)'>240</text>
<text x='504' y='492' filter='url(#bin)'>120</text>
<text x='239.2' y='563.7' filter='url(#bin)'>210</text>
<text x='432.9' y='563' filter='url(#bin)'>150</text>
<text x='337' y='588.5' filter='url(#bin)'>180</text>
<text x='427.3' y='255' filter='url(#bin)'>123940 UT</text>
<text x='314.7' y='370.3' filter='url(#bin)'>123104 UT</text>
<text x='263.4' y='521.2' filter='url(#bin)'>122228 UT</text>
<text x='153.2' y='191' filter='url(#bin)'>20120304 Trajectory COSMOS2407</text>
<path d='M696.3 295.0L698.0 312.5L699.2 305.0L700.0 310.0L701.0 306.0L702.5 311.7L703.3 285.0L705.0 280.8L706.3 285.0L707.8 272.5L709.2 280.0L709.7 305.0L710.8 298.0L711.7 320.0L712.5 305.0L713.3 313.0L714.6 305.0L715.3 291.7L715.8 280.0L717.5 274.2L723.3 283.3L729.2 289.2L735.0 293.0L741.7 298.3L746.7 305.0L755.0 320.0L761.7 331.7L770.0 340.8L778.3 353.3L785.0 366.7L793.3 386.7L803.3 403.3L815.0 425.0L820.0 435.8L826.7 448.3L835.0 461.7L845.0 474.2L855.0 486.7L865.0 497.5L873.3 506.7L883.3 513.3L890.0 517.5L900.0 519.2L913.3 520.8L926.7 523.3L936.7 525.3L948.3 525.0L960.0 520.0L968.3 512.5L980.0 503.3L990.0 495.0L1000.0 483.3L1008.3 471.7L1015.2 459.7L1020.6 451.3L1026.3 445.2L1030.5 444.5L1043.8 443.3L1045.0 436.1L1046.5 423.1L1047.6 415.5L1050.3 401.8L1052.6 412.5L1053.3 422.4L1059.4 426.2L1060.6 438.4L1062.1 441.0L1063.2 420.1L1065.1 411.0L1066.3 392.7L1067.8 384.3L1071.6 373.6L1076.2 369.0L1078.5 375.9L1079.2 395.0L1082.3 403.3L1084.6 398.8L1085.3 418.6' fill='none' stroke='#f00' shape-rendering='crispEdges'/>
<path d='M697.5 299V314M698.5 305V315M699.5 305V312M700.5 304V312M701.5 305V312M702.5 293V315M703.5 283V298M704.5 280V286M705.5 279V287M706.5 278V285M707.5 273V282M708.5 271V280M709.5 278V304M710.5 299V305M711.5 301V318M712.5 304V317M713.5 305V314M714.5 295V312M715.5 279V299M1044.5 435V445M1045.5 425V437M1046.5 418V430M1047.5 411V421M1048.5 405V414M1049.5 400V412M1050.5 400V408M1051.5 403V411M1052.5 408V421M1053.5 415V424M1054.5 419V424M1055.5 421V425M1056.5 423V428M1057.5 424V429M1058.5 422V429M1059.5 425V434M1060.5 430V440M1061.5 438V442M1066.5 386V401M1067.5 380V392M1068.5 379V384M1069.5 376V384M1070.5 373V379M1071.5 373V376M1072.5 369V374M1073.5 370V374M1074.5 367V372M1075.5 368V373M1076.5 368V372M1077.5 371V378M1078.5 373V392M1079.5 388V401M1080.5 395V402M1081.5 398V404M1082.5 399V404M1083.5 398V403M1084.5 398V412M1085.5 409V412' stroke='#f00' shape-rendering='crispEdges'/>
<g shape-rendering='crispEdges'><path d='M708.5 120V655M732.5 122V655M755.5 119V655M779.5 121V655M802.5 123V655M826.5 120V655M850.5 122V655M897.5 121V655M920.5 123V655M944.5 120V655M968.5 122V655M991.5 119V655M1015.5 121V655M1038.5 123V655M1062.5 120V655' stroke='#000' stroke-dasharray='1 4'/><path d='M873 119h1v2h-1zM873 124h1v2h-1zM873 129h1v2h-1zM873 134h1v2h-1zM873 139h1v2h-1zM873 144h1v2h-1zM873 149h1v2h-1zM873 154h1v2h-1zM873 159h1v2h-1zM873 164h1v2h-1zM873 169h1v2h-1zM873 174h1v2h-1zM873 179h1v2h-1zM873 184h1v2h-1zM873 189h1v2h-1zM873 194h1v2h-1zM873 199h1v2h-1zM873 204h1v2h-1zM873 209h1v2h-1zM873 214h1v2h-1zM873 219h1v2h-1zM873 224h1v2h-1zM873 229h1v2h-1zM873 234h1v2h-1zM873 239h1v2h-1zM873 244h1v2h-1zM873 249h1v2h-1zM873 254h1v2h-1zM873 259h1v2h-1zM873 264h1v2h-1zM873 269h1v2h-1zM873 274h1v2h-1zM873 279h1v2h-1zM873 284h1v2h-1zM873 289h1v2h-1zM873 294h1v2h-1zM873 299h1v2h-1zM873 304h1v2h-1zM873 309h1v2h-1zM873 314h1v2h-1zM873 319h1v2h-1zM873 324h1v2h-1zM873 329h1v2h-1zM873 334h1v2h-1zM873 339h1v2h-1zM873 344h1v2h-1zM873 349h1v2h-1zM873 354h1v2h-1zM873 359h1v2h-1zM873 364h1v2h-1zM873 369h1v2h-1zM873 374h1v2h-1zM873 379h1v2h-1zM873 384h1v2h-1zM873 389h1v2h-1zM873 394h1v2h-1zM873 399h1v2h-1zM873 404h1v2h-1zM873 409h1v2h-1zM873 414h1v2h-1zM873 419h1v2h-1zM873 424h1v2h-1zM873 429h1v2h-1zM873 434h1v2h-1zM873 439h1v2h-1zM873 444h1v2h-1zM873 449h1v2h-1zM873 454h1v2h-1zM873 459h1v2h-1zM873 464h1v2h-1zM873 469h1v2h-1zM873 474h1v2h-1zM873 479h1v2h-1zM873 484h1v2h-1zM873 489h1v2h-1zM873 494h1v2h-1zM873 499h1v2h-1zM873 504h1v2h-1zM873 509h1v2h-1zM873 514h1v2h-1zM873 519h1v2h-1zM873 524h1v2h-1zM873 529h1v2h-1zM873 534h1v2h-1zM873 539h1v2h-1zM873 544h1v2h-1zM873 549h1v2h-1zM873 554h1v2h-1zM873 559h1v2h-1zM873 564h1v2h-1zM873 569h1v2h-1zM873 574h1v2h-1zM873 579h1v2h-1zM873 584h1v2h-1zM873 589h1v2h-1zM873 594h1v2h-1zM873 599h1v2h-1zM873 604h1v2h-1zM873 609h1v2h-1zM873 614h1v2h-1zM873 619h1v2h-1zM873 624h1v2h-1zM873 629h1v2h-1zM873 634h1v2h-1zM873 639h1v2h-1zM873 644h1v2h-1zM873 649h1v2h-1zM873 654h1v2h-1zM873 649h1v6h-1z' fill='#000'/></g>
<g shape-rendering='crispEdges'><path d='M179.5 867V1402M203.5 865V1402M226.5 868V1402M250.5 866V1402M274.5 869V1402M297.5 867V1402M321.5 865V1402M368.5 866V1402M392.5 869V1402M416.5 867V1402M439.5 865V1402M463.5 868V1402M487.5 866V1402M510.5 869V1402M534.5 867V1402' stroke='#000' stroke-dasharray='1 4'/><path d='M345 867h1v2h-1zM345 872h1v2h-1zM345 877h1v2h-1zM345 882h1v2h-1zM345 887h1v2h-1zM345 892h1v2h-1zM345 897h1v2h-1zM345 902h1v2h-1zM345 907h1v2h-1zM345 912h1v2h-1zM345 917h1v2h-1zM345 922h1v2h-1zM345 927h1v2h-1zM345 932h1v2h-1zM345 937h1v2h-1zM345 942h1v2h-1zM345 947h1v2h-1zM345 952h1v2h-1zM345 957h1v2h-1zM345 962h1v2h-1zM345 967h1v2h-1zM345 972h1v2h-1zM345 977h1v2h-1zM345 982h1v2h-1zM345 987h1v2h-1zM345 992h1v2h-1zM345 997h1v2h-1zM345 1002h1v2h-1zM345 1007h1v2h-1zM345 1012h1v2h-1zM345 1017h1v2h-1zM345 1022h1v2h-1zM345 1027h1v2h-1zM345 1032h1v2h-1zM345 1037h1v2h-1zM345 1042h1v2h-1zM345 1047h1v2h-1zM345 1052h1v2h-1zM345 1057h1v2h-1zM345 1062h1v2h-1zM345 1067h1v2h-1zM345 1072h1v2h-1zM345 1077h1v2h-1zM345 1082h1v2h-1zM345 1087h1v2h-1zM345 1092h1v2h-1zM345 1097h1v2h-1zM345 1102h1v2h-1zM345 1107h1v2h-1zM345 1112h1v2h-1zM345 1117h1v2h-1zM345 1122h1v2h-1zM345 1127h1v2h-1zM345 1132h1v2h-1zM345 1137h1v2h-1zM345 1142h1v2h-1zM345 1147h1v2h-1zM345 1152h1v2h-1zM345 1157h1v2h-1zM345 1162h1v2h-1zM345 1167h1v2h-1zM345 1172h1v2h-1zM345 1177h1v2h-1zM345 1182h1v2h-1zM345 1187h1v2h-1zM345 1192h1v2h-1zM345 1197h1v2h-1zM345 1202h1v2h-1zM345 1207h1v2h-1zM345 1212h1v2h-1zM345 1217h1v2h-1zM345 1222h1v2h-1zM345 1227h1v2h-1zM345 1232h1v2h-1zM345 1237h1v2h-1zM345 1242h1v2h-1zM345 1247h1v2h-1zM345 1252h1v2h-1zM345 1257h1v2h-1zM345 1262h1v2h-1zM345 1267h1v2h-1zM345 1272h1v2h-1zM345 1277h1v2h-1zM345 1282h1v2h-1zM345 1287h1v2h-1zM345 1292h1v2h-1zM345 1297h1v2h-1zM345 1302h1v2h-1zM345 1307h1v2h-1zM345 1312h1v2h-1zM345 1317h1v2h-1zM345 1322h1v2h-1zM345 1327h1v2h-1zM345 1332h1v2h-1zM345 1337h1v2h-1zM345 1342h1v2h-1zM345 1347h1v2h-1zM345 1352h1v2h-1zM345 1357h1v2h-1zM345 1362h1v2h-1zM345 1367h1v2h-1zM345 1372h1v2h-1zM345 1377h1v2h-1zM345 1382h1v2h-1zM345 1387h1v2h-1zM345 1392h1v2h-1zM345 1397h1v2h-1zM345 1396h1v6h-1z' fill='#000'/></g>
<g shape-rendering='crispEdges'><path d='M708.5 867V1402M732.5 865V1402M755.5 868V1402M779.5 866V1402M802.5 869V1402M826.5 867V1402M850.5 865V1402M897.5 866V1402M920.5 869V1402M944.5 867V1402M968.5 865V1402M991.5 868V1402M1015.5 866V1402M1038.5 869V1402M1062.5 867V1402' stroke='#000' stroke-dasharray='1 4'/><path d='M873 867h1v2h-1zM873 872h1v2h-1zM873 877h1v2h-1zM873 882h1v2h-1zM873 887h1v2h-1zM873 892h1v2h-1zM873 897h1v2h-1zM873 902h1v2h-1zM873 907h1v2h-1zM873 912h1v2h-1zM873 917h1v2h-1zM873 922h1v2h-1zM873 927h1v2h-1zM873 932h1v2h-1zM873 937h1v2h-1zM873 942h1v2h-1zM873 947h1v2h-1zM873 952h1v2h-1zM873 957h1v2h-1zM873 962h1v2h-1zM873 967h1v2h-1zM873 972h1v2h-1zM873 977h1v2h-1zM873 982h1v2h-1zM873 987h1v2h-1zM873 992h1v2h-1zM873 997h1v2h-1zM873 1002h1v2h-1zM873 1007h1v2h-1zM873 1012h1v2h-1zM873 1017h1v2h-1zM873 1022h1v2h-1zM873 1027h1v2h-1zM873 1032h1v2h-1zM873 1037h1v2h-1zM873 1042h1v2h-1zM873 1047h1v2h-1zM873 1052h1v2h-1zM873 1057h1v2h-1zM873 1062h1v2h-1zM873 1067h1v2h-1zM873 1072h1v2h-1zM873 1077h1v2h-1zM873 1082h1v2h-1zM873 1087h1v2h-1zM873 1092h1v2h-1zM873 1097h1v2h-1zM873 1102h1v2h-1zM873 1107h1v2h-1zM873 1112h1v2h-1zM873 1117h1v2h-1zM873 1122h1v2h-1zM873 1127h1v2h-1zM873 1132h1v2h-1zM873 1137h1v2h-1zM873 1142h1v2h-1zM873 1147h1v2h-1zM873 1152h1v2h-1zM873 1157h1v2h-1zM873 1162h1v2h-1zM873 1167h1v2h-1zM873 1172h1v2h-1zM873 1177h1v2h-1zM873 1182h1v2h-1zM873 1187h1v2h-1zM873 1192h1v2h-1zM873 1197h1v2h-1zM873 1202h1v2h-1zM873 1207h1v2h-1zM873 1212h1v2h-1zM873 1217h1v2h-1zM873 1222h1v2h-1zM873 1227h1v2h-1zM873 1232h1v2h-1zM873 1237h1v2h-1zM873 1242h1v2h-1zM873 1247h1v2h-1zM873 1252h1v2h-1zM873 1257h1v2h-1zM873 1262h1v2h-1zM873 1267h1v2h-1zM873 1272h1v2h-1zM873 1277h1v2h-1zM873 1282h1v2h-1zM873 1287h1v2h-1zM873 1292h1v2h-1zM873 1297h1v2h-1zM873 1302h1v2h-1zM873 1307h1v2h-1zM873 1312h1v2h-1zM873 1317h1v2h-1zM873 1322h1v2h-1zM873 1327h1v2h-1zM873 1332h1v2h-1zM873 1337h1v2h-1zM873 1342h1v2h-1zM873 1347h1v2h-1zM873 1352h1v2h-1zM873 1357h1v2h-1zM873 1362h1v2h-1zM873 1367h1v2h-1zM873 1372h1v2h-1zM873 1377h1v2h-1zM873 1382h1v2h-1zM873 1387h1v2h-1zM873 1392h1v2h-1zM873 1397h1v2h-1zM873 1396h1v6h-1z' fill='#000'/></g>
</svg>
</body></html>
